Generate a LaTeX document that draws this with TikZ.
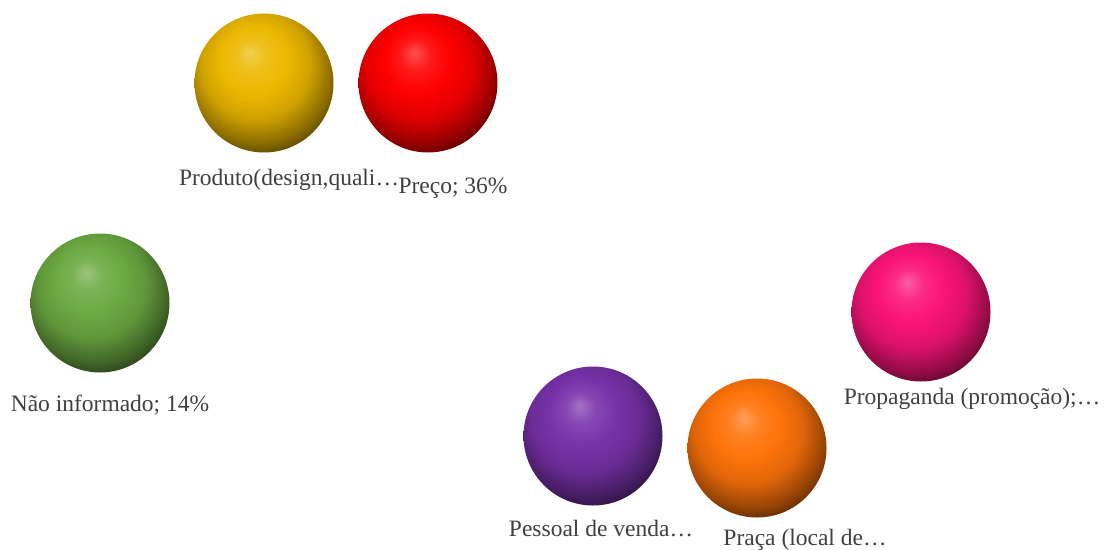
\documentclass[tikz,border=0pt]{standalone}
\usepackage{fontspec}
\setmainfont{Liberation Serif}
\usepackage{tikz}

\definecolor{ballyellow}{RGB}{236,184,0}
\definecolor{ballred}{RGB}{255,0,0}
\definecolor{ballgreen}{RGB}{108,170,66}
\definecolor{ballpink}{RGB}{250,20,120}
\definecolor{ballpurple}{RGB}{120,50,170}
\definecolor{ballorange}{RGB}{255,115,10}
\definecolor{labelgray}{RGB}{64,64,64}
\colorlet{ballbase}{ballred}

% softer ball shading, highlight up left
\pgfdeclareradialshading[ballbase]{softball}{\pgfpoint{-5bp}{11bp}}{%
  color(0bp)=(ballbase!68!white);
  color(5.5bp)=(ballbase!90!white);
  color(12bp)=(ballbase);
  color(19.5bp)=(ballbase!88!black);
  color(26.5bp)=(ballbase!60!black);
  color(32bp)=(ballbase!32!black);
  color(35bp)=(ballbase!18!black);
  color(50bp)=(black)}

\begin{document}
\begin{tikzpicture}[x=1pt,y=-1pt,
                ball node/.style={circle,minimum size=139pt,inner sep=0pt,shading=softball,
                  base/.code={\colorlet{ballbase}{##1}},base=#1},
                label node/.style={anchor=base,text=labelgray,font=\fontsize{23.5}{28}\selectfont,inner sep=0pt},
                ]
                \useasboundingbox (0,0) rectangle (1106,549);
                \node[ball node=ballyellow] (produto) at (264,83) {};
                \node[ball node=ballred] (preco) at (428,83) {};
                \node[ball node=ballgreen] (nao) at (100,303) {};
                \node[ball node=ballpink] (propaganda) at (921,312) {};
                \node[ball node=ballpurple] (pessoal) at (593,436) {};
                \node[ball node=ballorange] (praca) at (757,448) {};

                \node[label node] (produto label) at (289,185) {Produto(design,quali…};
                \node[label node] (preco label) at (453,193) {Preço; 36\%};
                \node[label node] (nao label) at (110,411) {Não informado; 14\%};
                \node[label node] (propaganda label) at (972,404) {Propaganda (promoção);…};
                \node[label node] (pessoal label) at (601,536) {Pessoal de venda…};
                \node[label node] (praca label) at (805,545) {Praça (local de…};
            \end{tikzpicture}
\end{document}
